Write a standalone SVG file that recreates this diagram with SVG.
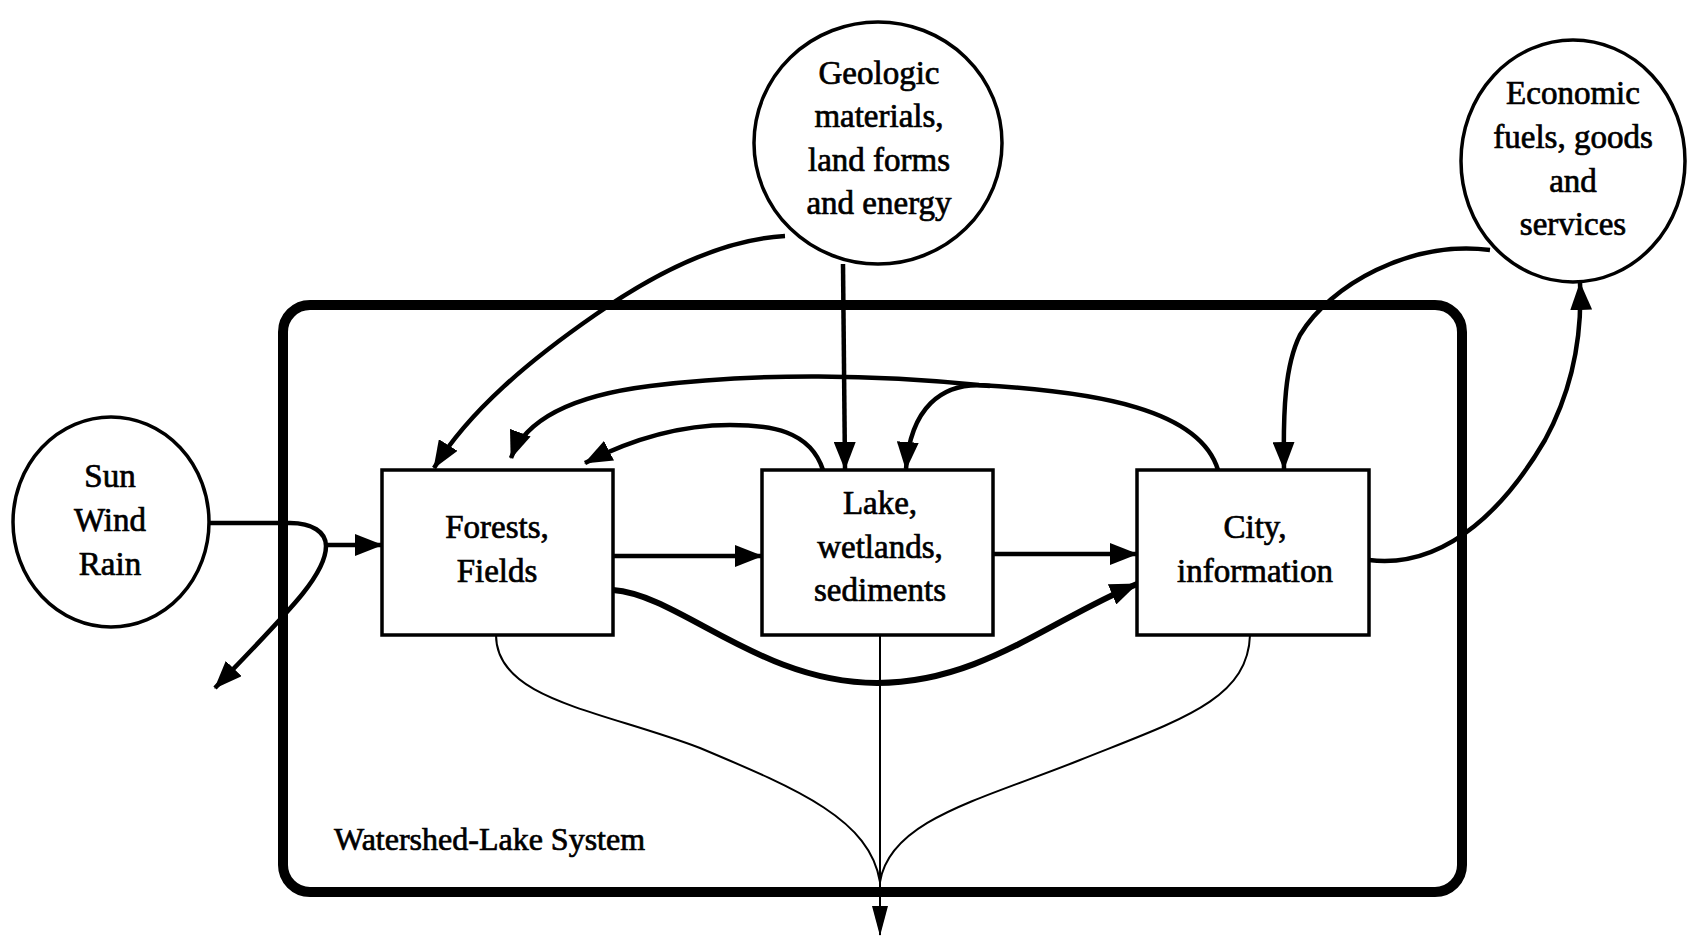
<svg xmlns="http://www.w3.org/2000/svg" width="1687" height="937" viewBox="0 0 1687 937">
<style>
.t{font-family:"Liberation Serif","Times New Roman",serif;font-size:33px;fill:#000;stroke:#000;stroke-width:0.7;text-anchor:middle}
.n{fill:#fff;stroke:#000;stroke-width:3.5}
.c{fill:none;stroke:#000;stroke-width:4.5}
.thin{fill:none;stroke:#000;stroke-width:2}
</style>
<defs>
<marker id="ah" markerUnits="userSpaceOnUse" viewBox="0 0 28 22" refX="27" refY="11" markerWidth="28" markerHeight="22" orient="auto">
<path d="M0,0 L28,11 L0,22 z" fill="#000"/>
</marker>
<marker id="ahs" markerUnits="userSpaceOnUse" viewBox="0 0 30 16" refX="29" refY="8" markerWidth="30" markerHeight="16" orient="auto">
<path d="M0,0 L30,8 L0,16 z" fill="#000"/>
</marker>
</defs>
<rect width="1687" height="937" fill="#fff"/>
<g id="frame">
<rect x="283" y="305" width="1179" height="587" rx="27" ry="27" fill="none" stroke="#000" stroke-width="10"/>
<text x="334" y="850" class="t" style="text-anchor:start;font-size:32px">Watershed-Lake System</text>
</g>
<g id="sun">
<ellipse cx="111" cy="522" rx="98" ry="105" class="n"/>
<text class="t" x="110" y="487">Sun</text>
<text class="t" x="110" y="531">Wind</text>
<text class="t" x="110" y="575">Rain</text>
</g>
<g id="geologic">
<ellipse cx="878" cy="143" rx="124" ry="121" class="n"/>
<text class="t" x="879" y="84">Geologic</text>
<text class="t" x="879" y="127">materials,</text>
<text class="t" x="879" y="171">land forms</text>
<text class="t" x="879" y="214">and energy</text>
</g>
<g id="economic">
<ellipse cx="1573" cy="161" rx="112" ry="121" class="n"/>
<text class="t" x="1573" y="104">Economic</text>
<text class="t" x="1573" y="148">fuels, goods</text>
<text class="t" x="1573" y="192">and</text>
<text class="t" x="1573" y="235">services</text>
</g>
<g id="forests">
<rect x="382" y="470" width="231" height="165" class="n"/>
<text class="t" x="497" y="538">Forests,</text>
<text class="t" x="497" y="582">Fields</text>
</g>
<g id="lake">
<rect x="762" y="470" width="231" height="165" class="n"/>
<text class="t" x="880" y="514">Lake,</text>
<text class="t" x="880" y="558">wetlands,</text>
<text class="t" x="880" y="601">sediments</text>
</g>
<g id="city">
<rect x="1137" y="470" width="232" height="165" class="n"/>
<text class="t" x="1255" y="538">City,</text>
<text class="t" x="1255" y="582">information</text>
</g>
<g id="connectors">
<path class="c" d="M209 523 L290 523 C312 523 326 532 326 546 C326 575 290 610 215 688" marker-end="url(#ah)"/>
<path class="c" d="M326 545 L382 545" marker-end="url(#ah)"/>
<path class="c" d="M785 236 C715 240 645 280 595 315 C530 360 470 410 434 468" marker-end="url(#ah)"/>
<path class="c" d="M843 264 L845 469" marker-end="url(#ah)"/>
<path class="c" d="M823 470 C810 430 770 425 730 425 C680 425 630 440 585 463" marker-end="url(#ah)"/>
<path class="c" d="M1218 470 C1200 410 1100 392 979 385 C880 375 760 372 650 386 C570 396 525 420 511 458" marker-end="url(#ah)"/>
<path class="c" d="M990 386 C940 380 910 410 906 469" marker-end="url(#ah)"/>
<path class="c" d="M613 556 L762 556" marker-end="url(#ah)"/>
<path class="c" d="M993 554 L1137 554" marker-end="url(#ah)"/>
<path class="c" style="stroke-width:6" d="M613 590 C680 595 760 683 877 683 C980 683 1050 620 1137 584" marker-end="url(#ah)"/>
<path class="c" d="M1369 560 C1450 570 1510 500 1545 440 C1575 385 1582 330 1580 283" marker-end="url(#ah)"/>
<path class="c" d="M1490 250 C1410 240 1330 285 1300 335 C1285 365 1283 410 1284 469" marker-end="url(#ah)"/>
<path class="thin" d="M496 635 C496 700 600 710 700 748 C800 790 870 820 880 882"/>
<path class="thin" d="M1250 635 C1248 700 1180 720 1080 760 C980 800 890 820 880 882"/>
<path class="thin" d="M880 635 L880 882"/>
<path class="thin" d="M880 880 L880 935" marker-end="url(#ahs)"/>
</g>
</svg>
